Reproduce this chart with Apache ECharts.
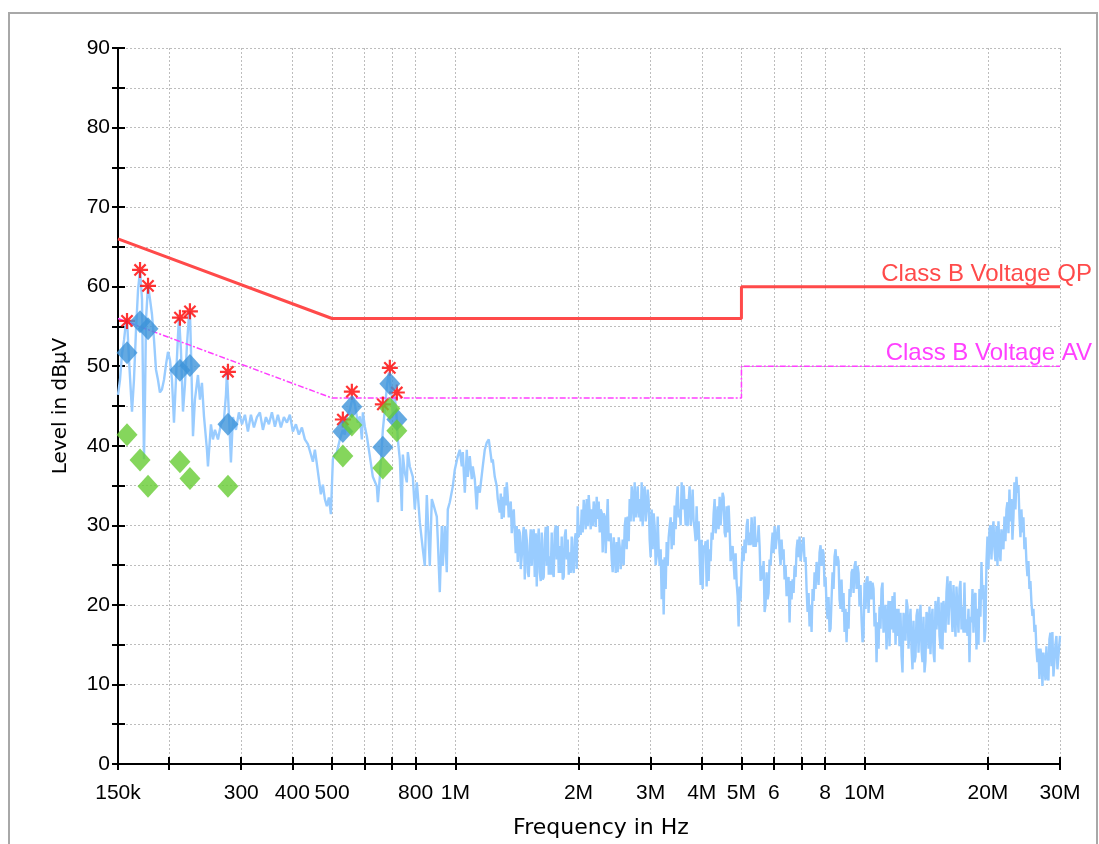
<!DOCTYPE html>
<html>
<head>
<meta charset="utf-8">
<title>Conducted emission scan</title>
<script src="https://cdn.jsdelivr.net/npm/echarts@6/dist/echarts.min.js"></script>
<style>
  html, body { margin: 0; padding: 0; background: #ffffff; }
  #chart { width: 1099px; height: 844px; }
</style>
</head>
<body>
<div id="chart"></div>
<script>
// Frequency axis ticks (Hz) and the text printed under each one ('' = tick only)
const xTickHz   = [150e3, 200e3, 300e3, 400e3, 500e3, 600e3, 700e3, 800e3, 1e6, 2e6, 3e6, 4e6, 5e6, 6e6, 7e6, 8e6, 10e6, 20e6, 30e6];
const xTickText = ['150k', '', '300', '400', '500', '', '', '800', '1M', '2M', '3M', '4M', '5M', '6', '', '8', '10M', '20M', '30M'];

// Receiver sweep: [frequency in MHz, level in dBµV]
const sweep = [
  [0.1500,46.4],[0.1517,48.3],[0.1534,51.5],[0.1552,53.3],[0.1569,55.6],[0.1578,55.9],[0.1596,50.8],[0.1614,46.4],
  [0.1623,44.3],[0.1641,48.3],[0.1660,54.6],[0.1679,59.6],[0.1698,62.1],[0.1717,58.4],[0.1726,48.3],[0.1736,38.3],
  [0.1746,45.8],[0.1756,55.9],[0.1776,60.2],[0.1796,58.4],[0.1816,56.5],[0.1837,53.3],[0.1857,49.6],[0.1878,48.3],
  [0.1899,46.7],[0.1921,47.1],[0.1943,48.3],[0.1965,50.2],[0.1987,51.8],[0.2009,50.8],[0.2032,48.3],[0.2055,42.9],
  [0.2078,48.3],[0.2102,53.9],[0.2114,56.1],[0.2137,52.1],[0.2162,44.3],[0.2186,47.7],[0.2211,52.7],[0.2236,56.5],
  [0.2248,56.9],[0.2261,52.1],[0.2287,41.2],[0.2312,45.8],[0.2352,48.9],[0.2378,45.8],[0.2405,47.9],[0.2433,43.7],
  [0.2474,39.5],[0.2488,37.4],[0.2530,42.7],[0.2559,40.8],[0.2588,42.0],[0.2632,40.8],[0.2676,42.7],[0.2722,43.3],
  [0.2753,46.4],[0.2768,49.2],[0.2800,43.9],[0.2831,37.9],[0.2863,43.6],[0.2912,42.0],[0.2961,44.2],[0.3012,42.7],
  [0.3063,43.9],[0.3115,41.8],[0.3168,43.9],[0.3222,42.3],[0.3277,43.6],[0.3332,44.2],[0.3389,42.0],[0.3447,43.6],
  [0.3505,42.7],[0.3565,44.2],[0.3626,42.4],[0.3687,43.9],[0.3750,42.3],[0.3814,43.6],[0.3879,42.9],[0.3944,43.9],
  [0.4011,41.8],[0.4080,42.7],[0.4149,41.4],[0.4220,42.3],[0.4291,40.8],[0.4365,40.2],[0.4439,38.9],[0.4489,38.0],
  [0.4540,39.5],[0.4591,37.7],[0.4643,35.8],[0.4695,33.9],[0.4748,35.1],[0.4802,33.3],[0.4856,32.4],[0.4911,33.5],
  [0.4967,31.4],[0.5023,38.3],[0.5080,38.9],[0.5137,39.2],[0.5224,40.8],[0.5313,42.0],[0.5373,41.4],[0.5434,43.7],
  [0.5526,44.5],[0.5621,46.2],[0.5684,45.2],[0.5748,45.4],[0.5781,42.9],[0.5846,43.7],[0.5912,40.8],[0.5946,44.2],
  [0.6013,42.4],[0.6081,41.2],[0.6184,38.7],[0.6289,36.1],[0.6432,34.9],[0.6469,32.9],[0.6542,36.1],[0.6616,39.9],
  [0.6653,42.0],[0.6728,44.5],[0.6804,47.4],[0.6881,49.2],[0.6998,46.2],[0.7038,43.7],[0.7117,46.2],[0.7198,43.3],
  [0.7238,40.8],[0.7320,38.3],[0.7403,31.8],[0.7445,38.9],[0.7529,36.6],[0.7614,35.4],[0.7657,39.2],[0.7743,37.4],
  [0.7875,36.1],[0.7964,32.0],[0.8054,35.4],[0.8100,33.9],[0.8191,30.4],[0.8330,27.0],[0.8424,24.9],[0.8520,33.8],
  [0.8664,24.9],[0.8762,33.3],[0.8812,32.9],[0.9012,31.1],[0.9063,28.2],[0.9165,21.6],[0.9269,29.9],[0.9321,24.9],
  [0.9427,29.9],[0.9533,24.1],[0.9587,32.0],[0.9695,32.9],[0.9860,34.9],[0.9972,37.0],[1.0142,38.7],[1.0256,39.5],
  [1.0372,37.4],[1.0431,39.2],[1.0549,34.1],[1.0668,39.5],[1.0728,36.1],[1.0848,38.7],[1.0971,35.8],[1.1033,37.4],
  [1.1158,35.8],[1.1284,32.0],[1.1348,34.9],[1.1476,34.1],[1.1671,37.4],[1.1804,39.5],[1.1937,40.4],[1.2072,40.8],
  [1.2277,37.9],[1.2347,38.3],[1.2486,36.1],[1.2628,34.9],[1.2699,33.3],
  [1.2842,31.6],[1.2914,34.0],[1.2987,30.8],[1.3061,33.6],[1.3134,31.0],[1.3208,34.8],[1.3283,32.5],[1.3358,35.4],[1.3433,33.6],[1.3509,31.0],
  [1.3584,30.8],[1.3661,33.0],[1.3738,29.0],[1.3815,31.1],[1.3893,32.0],[1.3972,29.1],[1.4050,26.5],[1.4130,29.9],[1.4210,25.4],[1.4290,29.5],
  [1.4370,29.1],[1.4451,24.5],[1.4533,26.1],[1.4615,28.6],[1.4697,29.8],[1.4780,23.2],[1.4863,29.5],[1.4947,28.2],[1.5032,24.1],[1.5116,23.5],
  [1.5200,27.4],[1.5286,29.5],[1.5372,24.9],[1.5459,29.1],[1.5546,29.5],[1.5634,23.5],[1.5722,29.0],[1.5811,22.3],[1.5900,27.9],[1.5990,29.6],
  [1.6079,24.1],[1.6170,23.0],[1.6261,29.1],[1.6353,23.2],[1.6445,23.5],[1.6538,28.2],[1.6631,29.8],[1.6725,24.9],[1.6820,29.9],[1.6914,23.8],
  [1.7009,26.1],[1.7105,23.8],[1.7201,29.1],[1.7299,24.1],[1.7396,23.5],[1.7494,29.1],[1.7593,30.0],[1.7692,25.7],[1.7792,29.9],[1.7892,24.0],
  [1.7992,27.4],[1.8093,24.0],[1.8196,28.6],[1.8298,23.2],[1.8402,23.5],[1.8505,28.6],[1.8610,29.5],[1.8715,25.7],[1.8820,28.2],[1.8927,23.8],
  [1.9033,26.6],[1.9140,24.0],[1.9248,28.6],[1.9357,24.9],[1.9466,24.0],[1.9576,28.2],[1.9686,29.0],[1.9797,24.5],[1.9909,32.4],[2.0022,28.5],
  [2.0133,29.9],[2.0247,28.8],[2.0361,32.0],[2.0476,29.1],[2.0591,33.2],[2.0708,31.6],[2.0824,29.5],[2.0942,33.3],[2.1060,29.9],[2.1179,33.8],
  [2.1297,33.6],[2.1417,29.5],[2.1538,32.0],[2.1660,29.9],[2.1782,33.0],[2.1905,31.6],[2.2028,29.8],[2.2153,33.6],[2.2278,30.8],[2.2403,33.0],
  [2.2529,29.1],[2.2656,32.0],[2.2784,31.6],[2.2912,26.6],[2.3042,31.5],[2.3172,31.1],[2.3302,26.5],[2.3434,29.9],[2.3567,33.3],[2.3699,28.0],
  [2.3832,28.2],[2.3966,29.0],[2.4102,25.7],[2.4238,24.1],[2.4374,28.5],[2.4512,26.6],[2.4650,24.0],[2.4790,27.9],[2.4929,24.1],[2.5070,28.5],
  [2.5210,27.4],[2.5352,24.5],[2.5495,26.1],[2.5639,28.2],[2.5784,25.0],[2.5929,29.9],[2.6075,31.0],[2.6223,27.0],[2.6371,31.1],[2.6519,28.0],
  [2.6667,33.3],[2.6817,30.5],[2.6969,34.9],[2.7121,33.3],[2.7274,30.5],[2.7428,35.4],[2.7582,31.0],[2.7738,32.4],[2.7895,34.9],[2.8052,31.0],
  [2.8209,33.3],[2.8368,30.5],[2.8528,35.4],[2.8689,29.9],[2.8851,34.0],[2.9014,34.9],[2.9177,30.5],[2.9342,32.0],[2.9508,34.5],[2.9674,33.0],
  [2.9840,28.2],[3.0008,26.0],[3.0178,32.0],[3.0348,27.0],[3.0519,31.5],[3.0692,29.9],[3.0864,25.0],[3.1039,26.1],[3.1214,31.1],[3.1390,27.0],
  [3.1565,24.9],[3.1743,27.0],[3.1922,20.7],[3.2102,25.7],[3.2284,18.8],[3.2466,26.0],[3.2649,22.0],[3.2836,27.9],[3.3019,24.9],[3.3205,28.5],
  [3.3391,29.9],[3.3579,31.0],[3.3769,27.0],[3.3959,30.4],[3.4151,27.5],[3.4344,32.5],[3.4537,29.5],[3.4732,33.3],[3.4928,34.9],[3.5125,31.0],
  [3.5321,32.0],[3.5520,30.0],[3.5721,35.4],[3.5922,32.0],[3.6125,35.0],[3.6329,34.9],[3.6534,30.0],[3.6740,33.3],[3.6947,29.9],[3.7156,33.0],
  [3.7363,34.9],[3.7574,30.0],[3.7786,31.6],[3.7999,34.5],[3.8213,30.5],[3.8429,29.5],[3.8646,28.0],[3.8864,32.4],[3.9083,28.2],[3.9304,30.5],
  [3.9524,26.1],[3.9747,22.5],[3.9971,28.2],[4.0197,22.0],[4.0424,27.5],[4.0652,27.0],[4.0881,28.0],[4.1112,22.3],[4.1344,28.2],[4.1577,23.0],
  [4.1809,27.0],[4.2045,25.5],[4.2282,29.1],[4.2521,28.2],[4.2761,31.5],[4.3002,33.3],[4.3244,29.0],[4.3489,30.4],[4.3734,32.4],[4.3981,29.5],
  [4.4226,33.6],[4.4475,30.0],[4.4726,29.9],[4.4979,34.1],[4.5233,33.5],[4.5488,29.1],[4.5744,28.5],[4.6003,32.4],[4.6262,29.1],[4.6523,32.5],
  [4.6784,29.5],[4.7048,25.5],[4.7313,26.6],[4.7580,27.4],[4.7849,27.5],[4.8119,23.2],[4.8390,26.5],[4.8663,22.8],[4.8938,21.1],[4.9214,17.3],
  [4.9489,22.3],[4.9768,20.5],[5.0049,24.5],[5.0332,27.4],[5.0615,25.5],[5.0902,28.2],[5.1188,26.5],[5.1478,29.9],[5.1768,30.8],[5.2059,27.5],
  [5.2350,29.1],[5.2645,27.5],[5.2942,31.0],[5.3241,28.2],[5.3541,27.3],[5.3844,31.1],[5.4147,27.3],[5.4453,28.2],[5.4760,27.9],[5.5069,30.0],
  [5.5377,27.4],[5.5689,23.0],[5.6003,24.9],[5.6320,23.2],[5.6637,25.5],[5.6957,19.1],[5.7278,20.0],[5.7602,24.1],[5.7926,20.7],[5.8253,21.5],
  [5.8579,25.7],[5.8909,25.0],[5.9242,27.4],[5.9577,29.1],[5.9912,26.5],[6.0251,29.9],[6.0590,27.0],[6.0933,28.2],[6.1276,29.5],[6.1622,30.0],
  [6.1966,26.6],[6.2315,25.0],[6.2667,28.2],[6.3021,25.7],[6.3376,27.0],[6.3734,23.2],[6.4093,25.0],[6.4455,21.1],[6.4818,22.8],[6.5185,23.5],
  [6.5549,17.8],[6.5919,23.0],[6.6291,20.7],[6.6665,23.2],[6.7041,21.5],[6.7419,24.9],[6.7799,23.5],[6.8182,27.0],[6.8566,28.2],[6.8954,26.0],
  [6.9339,28.6],[6.9730,25.5],[7.0123,26.6],[7.0519,27.9],[7.0917,28.5],[7.1317,25.4],[7.1719,26.0],[7.2124,22.0],[7.2531,19.1],[7.2941,21.5],
  [7.3348,17.3],[7.3762,20.0],[7.4178,16.6],[7.4597,22.0],[7.5017,20.5],[7.5441,24.1],[7.5866,22.0],[7.6295,25.4],[7.6725,24.1],[7.7158,22.5],
  [7.7589,26.6],[7.8027,27.5],[7.8467,24.9],[7.8910,27.0],[7.9355,26.5],[7.9803,22.3],[8.0253,23.5],[8.0706,19.8],[8.1161,18.2],[8.1619,21.0],
  [8.2075,16.6],[8.2538,17.0],[8.3003,20.7],[8.3472,24.1],[8.3943,22.0],[8.4417,26.1],[8.4893,27.0],[8.5372,24.9],[8.5853,26.1],[8.6338,25.5],
  [8.6821,20.7],[8.7311,19.5],[8.7803,23.2],[8.8299,19.1],[8.8797,21.5],[8.9298,16.6],[8.9802,19.5],[9.0309,15.3],[9.0818,19.1],[9.1330,17.0],
  [9.1841,22.0],[9.2359,21.0],[9.2880,24.1],[9.3405,24.5],[9.3931,21.5],[9.4462,24.9],[9.4994,25.5],[9.5531,22.0],[9.6069,24.9],[9.6611,24.0],
  [9.7151,19.8],[9.7699,22.5],[9.8250,18.2],[9.8805,15.3],[9.9362,16.0],[9.9923,22.8],[10.049,19.5],[10.105,23.2],[10.162,23.6],[10.220,19.0],
  [10.277,22.6],[10.335,23.0],[10.393,20.7],[10.452,22.8],[10.511,22.0],[10.570,17.3],[10.630,19.0],[10.690,12.8],[10.750,17.8],[10.811,14.5],
  [10.871,19.8],[10.932,17.0],[10.994,22.0],[11.056,22.8],[11.118,16.5],[11.181,17.8],[11.244,20.0],[11.308,14.4],[11.371,18.2],[11.436,20.5],
  [11.500,14.8],[11.565,20.5],[11.630,16.9],[11.696,21.1],[11.762,16.5],[11.828,21.6],[11.895,15.0],[11.962,19.5],[12.030,16.1],[12.097,19.5],
  [12.165,14.8],[12.234,19.0],[12.303,13.6],[12.372,11.5],[12.442,19.0],[12.512,17.8],[12.583,15.5],[12.654,20.7],[12.725,19.8],[12.797,14.5],
  [12.868,17.3],[12.941,19.5],[13.014,14.4],[13.087,11.9],[13.161,18.0],[13.235,12.8],[13.310,13.5],[13.385,18.6],[13.461,19.5],[13.536,14.0],
  [13.612,17.8],[13.689,20.0],[13.766,14.4],[13.844,12.8],[13.922,18.5],[14.000,11.5],[14.079,13.0],[14.159,19.1],[14.239,18.6],[14.319,14.5],
  [14.399,19.8],[14.480,13.8],[14.562,17.8],[14.644,19.5],[14.727,14.0],[14.810,12.8],[14.893,20.5],[14.978,16.9],[15.062,19.1],[15.147,21.0],
  [15.232,16.1],[15.318,14.5],[15.404,20.3],[15.491,14.4],[15.579,20.5],[15.667,18.6],[15.755,16.5],[15.844,21.6],[15.933,23.6],[16.023,17.5],
  [16.112,22.0],[16.203,23.0],[16.294,19.5],[16.386,16.6],[16.479,22.5],[16.572,18.6],[16.665,16.0],[16.759,22.3],[16.854,19.5],[16.949,16.5],
  [17.044,22.0],[17.140,23.0],[17.237,16.9],[17.334,19.8],[17.432,16.5],[17.530,22.8],[17.629,16.5],[17.729,18.2],[17.829,16.1],[17.929,19.5],
  [18.030,12.8],[18.132,18.5],[18.234,17.8],[18.337,22.0],[18.440,16.5],[18.544,21.1],[18.649,21.5],[18.754,14.4],[18.860,19.5],[18.966,15.0],
  [19.072,22.0],[19.180,18.5],[19.288,25.4],[19.397,20.7],[19.506,22.5],[19.616,15.3],[19.727,17.0],[19.838,25.4],[19.950,28.6],[20.063,24.5],
  [20.175,29.5],[20.289,30.0],[20.403,25.7],[20.518,29.1],[20.634,30.5],[20.750,27.0],[20.868,25.5],[20.985,29.9],[21.103,24.9],[21.223,30.5],
  [21.341,27.0],[21.461,25.5],[21.582,29.5],[21.704,27.4],[21.827,27.0],[21.950,31.1],[22.074,28.0],[22.198,32.0],[22.324,32.9],[22.449,29.0],
  [22.575,34.5],[22.702,30.5],[22.830,33.3],[22.960,28.2],[23.089,31.0],[23.219,35.4],[23.350,32.0],[23.482,36.1],[23.614,34.1],[23.748,35.0],
  [23.880,31.1],[24.015,28.5],[24.150,32.0],[24.286,29.1],[24.424,31.0],[24.561,27.0],[24.700,28.5],[24.839,25.4],[24.979,23.6],[25.120,25.5],
  [25.261,22.0],[25.403,23.0],[25.547,20.3],[25.691,18.6],[25.836,19.5],[25.982,16.6],[26.128,17.5],[26.276,14.4],[26.424,12.8],[26.573,14.5],
  [26.722,10.7],[26.873,14.5],[27.024,13.6],[27.177,9.8],[27.330,14.0],[27.485,12.8],[27.639,10.5],[27.795,14.8],[27.953,11.0],[28.110,10.5],
  [28.267,15.7],[28.426,16.5],[28.587,12.3],[28.748,16.6],[28.910,11.0],[29.073,12.8],[29.237,15.0],[29.402,16.1],[29.568,11.9],[29.735,12.0],
  [30.000,16.1]
];

// Final measurement frequencies (MHz) with peak, quasi-peak and average readings (dBµV)
const finalMHz = [0.1578, 0.1698, 0.1776, 0.2125, 0.2248, 0.2784, 0.5313, 0.5589, 0.6653, 0.6920, 0.7198];
const peakDb   = [55.7, 62.1, 60.1, 56.1, 56.9, 49.3, 43.3, 46.8, 45.2, 49.8, 46.7];
const qpDb     = [51.7, 55.6, 54.7, 49.5, 50.1, 42.7, 41.8, 44.9, 39.8, 47.8, 43.3];
const avDb     = [41.4, 38.2, 34.9, 38.0, 35.9, 34.9, 38.7, 42.6, 37.2, 44.7, 41.9];

// CISPR 32 Class B conducted limits
const qpLimitMHz = [0.15, 0.5, 5, 5, 30];
const qpLimitDb  = [66, 56, 56, 60, 60];
const avLimitMHz = [0.15, 0.5, 5, 5, 30];
const avLimitDb  = [56, 46, 46, 50, 50];

// The frequency axis is a linear axis over log10(Hz)
const lg = hz => Math.log10(hz);
const fromMHz = mhz => lg(mhz * 1e6);
const xTickVals = xTickHz.map(lg);
const tickTextByHz = {};
xTickHz.forEach((hz, i) => { tickTextByHz[Math.round(hz)] = xTickText[i]; });

const pairs = (fs, ls) => fs.map((f, i) => [fromMHz(f), ls[i]]);

const AXIS_BLACK = { color: '#000000', width: 2 };
const GRID_DOTS = { color: '#bdbdbd', width: 1, type: [2, 2] };
const TICK_FONT = { fontFamily: 'Liberation Sans', fontSize: 21, color: '#000000' };

const asterisk = 'path://M10,0L10,20M0,10L20,10M3,3L17,17M3,17L17,3';

const chart = echarts.init(document.getElementById('chart'), null, { renderer: 'canvas' });

chart.setOption({
  animation: false,
  backgroundColor: '#ffffff',
  graphic: [{
    type: 'rect',
    shape: { x: 9, y: 13, width: 1088, height: 845 },
    style: { fill: 'none', stroke: '#a8a8a8', lineWidth: 2 },
    silent: true
  }],
  grid: { left: 118, right: 39, top: 48, bottom: 79, containLabel: false },
  xAxis: [{
    type: 'value',
    position: 'bottom',
    min: lg(150e3),
    max: lg(30e6),
    axisLine: { show: true, onZero: false, lineStyle: AXIS_BLACK },
    axisTick: { show: true, customValues: xTickVals, length: 6, lineStyle: AXIS_BLACK },
    axisLabel: Object.assign({
      customValues: xTickVals,
      showMinLabel: true,
      showMaxLabel: true,
      margin: 19,
      formatter: v => tickTextByHz[Math.round(Math.pow(10, v))] || ''
    }, TICK_FONT),
    splitLine: { show: true, lineStyle: GRID_DOTS },
    name: 'Frequency in Hz',
    nameLocation: 'middle',
    nameGap: 53,
    nameTextStyle: { fontFamily: 'DejaVu Sans', fontSize: 22, color: '#000000', padding: [0, 0, 0, 24] }
  }, {
    type: 'value',
    position: 'bottom',
    min: lg(150e3),
    max: lg(30e6),
    axisLine: { show: false, onZero: false },
    axisTick: { show: true, inside: true, customValues: xTickVals, length: 7, lineStyle: AXIS_BLACK },
    axisLabel: { show: false },
    splitLine: { show: false }
  }],
  yAxis: [{
    type: 'value',
    position: 'left',
    min: 0,
    max: 90,
    interval: 5,
    axisLine: { show: true, onZero: false, lineStyle: AXIS_BLACK },
    axisTick: { show: true, length: 6, lineStyle: AXIS_BLACK },
    axisLabel: Object.assign({
      margin: 8,
      formatter: v => (v % 10 === 0 ? String(v) : '')
    }, TICK_FONT),
    splitLine: { show: true, lineStyle: GRID_DOTS },
    name: 'Level in dBµV',
    nameLocation: 'middle',
    nameGap: 47,
    nameTextStyle: { fontFamily: 'DejaVu Sans', fontSize: 20, color: '#000000' }
  }, {
    type: 'value',
    position: 'left',
    min: 0,
    max: 90,
    interval: 5,
    axisLine: { show: false, onZero: false },
    axisTick: { show: true, inside: true, length: 7, lineStyle: AXIS_BLACK },
    axisLabel: { show: false },
    splitLine: { show: false }
  }],
  series: [
    {
      name: 'Sweep',
      type: 'line',
      xAxisIndex: 0, yAxisIndex: 0,
      data: sweep.map(p => [fromMHz(p[0]), p[1]]),
      showSymbol: false,
      symbol: 'none',
      lineStyle: { color: '#99ccff', width: 2.4 },
      z: 2
    },
    {
      name: 'Class B Voltage QP',
      type: 'line',
      xAxisIndex: 0, yAxisIndex: 0,
      data: pairs(qpLimitMHz, qpLimitDb),
      showSymbol: false,
      symbol: 'none',
      lineStyle: { color: '#ff4a4a', width: 3 },
      endLabel: {
        show: true,
        formatter: 'Class B Voltage QP',
        align: 'right',
        verticalAlign: 'bottom',
        distance: 32,
        padding: [0, 0, 0, 0],
        fontFamily: 'Liberation Sans',
        fontSize: 24,
        color: '#ff4a4a'
      },
      z: 3
    },
    {
      name: 'Class B Voltage AV',
      type: 'line',
      xAxisIndex: 0, yAxisIndex: 0,
      data: pairs(avLimitMHz, avLimitDb),
      showSymbol: false,
      symbol: 'none',
      lineStyle: { color: '#ff40ff', width: 1.5, type: [6, 2, 2, 2] },
      endLabel: {
        show: true,
        formatter: 'Class B Voltage AV',
        align: 'right',
        verticalAlign: 'bottom',
        distance: 32,
        padding: [0, 0, 1, 0],
        fontFamily: 'Liberation Sans',
        fontSize: 24,
        color: '#ff40ff'
      },
      z: 3
    },
    {
      name: 'Peak',
      type: 'scatter',
      xAxisIndex: 0, yAxisIndex: 0,
      data: pairs(finalMHz, peakDb),
      symbol: asterisk,
      symbolSize: 16,
      itemStyle: { color: '#ff0000', borderColor: '#ff0000', borderWidth: 2.2 },
      z: 4
    },
    {
      name: 'QP',
      type: 'scatter',
      xAxisIndex: 0, yAxisIndex: 0,
      data: pairs(finalMHz, qpDb),
      symbol: 'diamond',
      symbolSize: [21, 23],
      itemStyle: { color: '#3d93d9' },
      z: 5
    },
    {
      name: 'AV',
      type: 'scatter',
      xAxisIndex: 0, yAxisIndex: 0,
      data: pairs(finalMHz, avDb),
      symbol: 'diamond',
      symbolSize: [21, 23],
      itemStyle: { color: '#66cc33' },
      z: 6
    }
  ]
});
</script>
</body>
</html>
